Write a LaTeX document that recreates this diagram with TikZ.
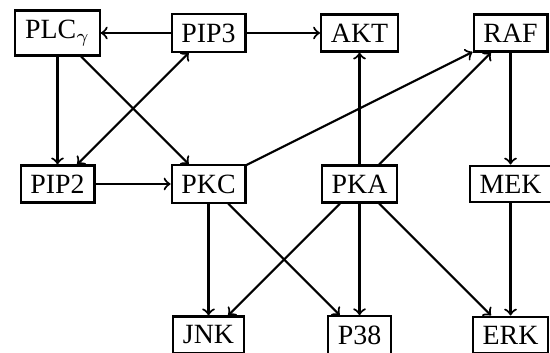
\documentclass[tikz,border=0pt]{standalone}
\usepackage{fontspec}
\setmainfont{Liberation Serif}
\usepackage{tikz}
\usetikzlibrary{arrows}
\tikzstyle{box} = [rectangle, draw=black, thick, inner xsep=3.7pt, inner ysep=3.5pt, text centered]
\tikzstyle{arrow} = [thick,->]

\begin{document}
\begin{tikzpicture}[node distance=2cm, font=\fontsize{10.5}{12}\selectfont]
    \useasboundingbox (-0.762,0.437) rectangle (6.523,-4.238);

    \node (1) [box] {PLC$_\gamma$};
    \node (2) [box, right of=1] {PIP3};
    \node (3) [box, right of=2] {AKT};
    \node (4) [box, right of=3] {RAF};

    \node (5) [box, below of=1] {PIP2};
    \node (6) [box, below of=2] {PKC};
    \node (7) [box, below of=3] {PKA};
    \node (8) [box, below of=4] {MEK};

    \node (9) [box, below of=6] {JNK};
    \node (10) [box, below of=7] {P38};
    \node (11) [box, below of=8] {ERK};

    \draw [arrow] (2) -- (1);
    \draw [arrow] (2) -- (3);
    \draw [arrow] (1) -- (5);
    \draw [arrow] (1) -- (6);
    \draw [arrow, <->] (5) -- (2);
    \draw [arrow] (5) -- (6);
    \draw [arrow] (6) -- (4);
    \draw [arrow] (7) -- (3);
    \draw [arrow] (7) -- (4);
    \draw [arrow] (4) -- (8);
    \draw [arrow] (8) -- (11);
    \draw [arrow] (6) -- (9);
    \draw [arrow] (6) -- (10);
    \draw [arrow] (7) -- (9);
    \draw [arrow] (7) -- (10);
    \draw [arrow] (7) -- (11);
  \end{tikzpicture}
\end{document}
